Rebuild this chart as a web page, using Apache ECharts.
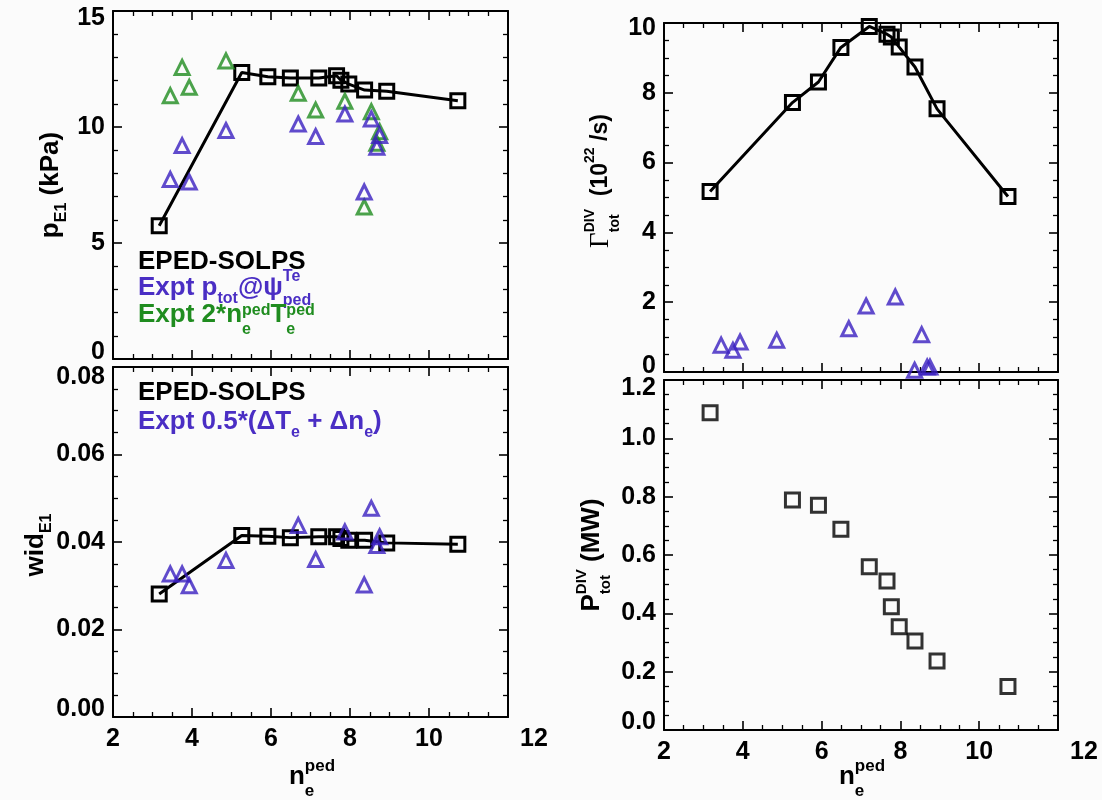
<!DOCTYPE html>
<html><head><meta charset="utf-8">
<script src="https://cdn.jsdelivr.net/npm/echarts@6/dist/echarts.min.js"></script>
<style>html,body{margin:0;padding:0;background:#fbfbfb}#c{width:1102px;height:800px}</style>
</head><body><div id="c"></div>
<script>
// ---- data ----
const neSOLPS    = [3.17, 5.26, 5.92, 6.49, 7.21, 7.66, 7.77, 7.97, 8.37, 8.93, 10.73];
const pE1SOLPS   = [5.74, 12.35, 12.17, 12.11, 12.11, 12.21, 12.02, 11.85, 11.59, 11.54, 11.13];
const widSOLPS   = [0.0281, 0.0415, 0.0413, 0.0410, 0.0412, 0.0412, 0.0408, 0.0404, 0.0404, 0.0398, 0.0395];
const gamSOLPS   = [5.17, 7.72, 8.31, 9.30, 9.90, 9.68, 9.60, 9.31, 8.74, 7.54, 5.03];
const pdivSOLPS  = [1.088, 0.789, 0.771, 0.688, 0.560, 0.511, 0.423, 0.354, 0.305, 0.237, 0.149];

const neExpt     = [3.45, 3.75, 3.93, 4.86, 6.69, 7.13, 7.87, 8.36, 8.54, 8.68, 8.75];
const pTotExpt   = [7.74, 9.20, 7.63, 9.85, 10.13, 9.59, 10.56, 7.20, 10.35, 9.13, 9.63];
const p2nTExpt   = [11.35, 12.57, 11.71, 12.85, 11.45, 10.73, 11.11, 6.55, 10.66, 9.30, 9.80];
const widExpt    = [0.0327, 0.0327, 0.0300, 0.0358, 0.0438, 0.0360, 0.0423, 0.0302, 0.0477, 0.0392, 0.0412];
const gamExpt    = [0.77, 0.62, 0.86, 0.91, 1.24, 1.89, 2.15, 0.05, 1.07, 0.14, 0.14];

const xTicks = {min: 2, max: 12, interval: 2};

// ---- styles ----
const FONT = "'Liberation Sans', Arial, Helvetica, sans-serif";
const BLACK = '#000', BLUE = '#3a1fc0', BLUETXT = '#4a2ec4', GREEN = '#1f8c1f';
const pairs = (xs, ys) => xs.map((x, i) => [x, ys[i]]);

const mctx = document.createElement('canvas').getContext('2d');
function tw(t, size, fam, wt) { mctx.font = `${wt} ${size}px ${fam}`; return mctx.measureText(t).width; }

function richText(segs, o) {
  const S = o.size || 26, s = o.small || 16;
  const children = []; let cx = 0;
  const txt = (t, x, y, size, fam, wt, col) => children.push({type: 'text', x, y,
    style: {text: t, font: `${wt} ${size}px ${fam}`, fill: col, verticalAlign: 'middle', align: 'left'}});
  for (const g of segs) {
    const col = g.color || o.color || BLACK;
    if (g.t !== undefined) {
      const fam = g.family || FONT, wt = g.weight || 'bold', sz = g.size || S;
      txt(g.t, cx, 0, sz, fam, wt, col);
      cx += tw(g.t, sz, fam, wt);
    } else {
      let w = 0;
      const stacked = g.sup && g.sub;
      if (g.sup) { txt(g.sup, cx, (g.supY !== undefined ? g.supY : -0.40) * S, s, FONT, 'bold', col); w = Math.max(w, tw(g.sup, s, FONT, 'bold')); }
      if (g.sub) { txt(g.sub, cx, (g.subY !== undefined ? g.subY : (stacked ? 0.55 : 0.40)) * S, s, FONT, 'bold', col); w = Math.max(w, tw(g.sub, s, FONT, 'bold')); }
      cx += w + (g.gap || 0);
    }
  }
  const off = o.align === 'center' ? -cx / 2 : 0;
  children.forEach(c => c.x += off);
  return {type: 'group', x: o.x, y: o.y, rotation: o.rotation || 0, silent: true, children};
}

// ---- layout ----
const grids = [
  {left: 113, top: 11, width: 395, height: 348},
  {left: 113, top: 367, width: 395, height: 350},
  {left: 664, top: 23, width: 394, height: 349},
  {left: 664, top: 380, width: 394, height: 350}
];
const yCfg = [
  {min: 0, max: 15, interval: 5, split: 5, dec: 0, shiftMax: 7, shiftMin: 7},
  {min: 0, max: 0.08, interval: 0.02, split: 4, dec: 2, shiftMax: 10, shiftMin: 8},
  {min: 0, max: 10, interval: 2, split: 4, dec: 0, shiftMax: 5, shiftMin: 6},
  {min: 0, max: 1.2, interval: 0.2, split: 4, dec: 1, shiftMax: 8, shiftMin: 8}
];
const labelStyle = {color: BLACK, fontSize: 25, fontWeight: 'bold', fontFamily: FONT};
function axisCommon(extra) {
  return Object.assign({
    type: 'value',
    axisLine: {show: true, onZero: false, lineStyle: {color: BLACK, width: 2}},
    axisTick: {show: true, inside: true, length: 9, lineStyle: {color: BLACK, width: 1.6}},
    splitLine: {show: false}, minorSplitLine: {show: false}
  }, extra);
}
const minor = n => ({show: true, splitNumber: n, length: 5, lineStyle: {color: BLACK, width: 1.3}});
const xAxis = [], yAxis = [];
grids.forEach((g, i) => {
  const showX = (i === 1 || i === 3);
  xAxis.push(axisCommon({gridIndex: i, position: 'bottom', min: xTicks.min, max: xTicks.max, interval: xTicks.interval,
    minorTick: minor(4),
    axisLabel: Object.assign({show: showX, margin: 10,
      formatter: v => Math.abs(v - xTicks.max) < 1e-9 ? `{r|${v}}` : String(v),
      rich: {r: Object.assign({padding: [0, 0, 0, 52]}, labelStyle)}}, labelStyle)}));
  xAxis.push(axisCommon({gridIndex: i, position: 'top', min: xTicks.min, max: xTicks.max, interval: xTicks.interval,
    minorTick: minor(4), axisLabel: {show: false}}));
  const c = yCfg[i];
  yAxis.push(axisCommon({gridIndex: i, position: 'left', min: c.min, max: c.max, interval: c.interval,
    minorTick: minor(c.split),
    axisLabel: Object.assign({show: true, margin: 8,
      formatter: v => {
        const s = v.toFixed(c.dec);
        if (Math.abs(v - c.max) < 1e-9) return `{hi|${s}}`;
        if (Math.abs(v - c.min) < 1e-9) return `{lo|${s}}`;
        return `{n|${s}}`;
      },
      rich: {
        hi: Object.assign({padding: [2 * c.shiftMax, 0, 0, 0]}, labelStyle),
        lo: Object.assign({padding: [0, 0, 2 * c.shiftMin, 0]}, labelStyle),
        n: Object.assign({}, labelStyle)
      }}, labelStyle)}));
  yAxis.push(axisCommon({gridIndex: i, position: 'right', min: c.min, max: c.max, interval: c.interval,
    minorTick: minor(c.split), axisLabel: {show: false}}));
});

const sq = {symbol: 'rect', symbolSize: 14, itemStyle: {color: 'rgba(0,0,0,0)', borderColor: BLACK, borderWidth: 3}};
function solpsLine(g, ys) {
  return Object.assign({type: 'line', xAxisIndex: 2 * g, yAxisIndex: 2 * g, data: pairs(neSOLPS, ys),
    showSymbol: true, lineStyle: {color: BLACK, width: 3}, z: 2}, sq);
}
function tri(g, ys, col) {
  return {type: 'scatter', xAxisIndex: 2 * g, yAxisIndex: 2 * g, data: pairs(neExpt, ys), symbol: 'triangle',
    symbolSize: 14, itemStyle: {color: 'rgba(0,0,0,0)', borderColor: col, borderWidth: 3}, z: 3};
}

const series = [
  solpsLine(0, pE1SOLPS),
  tri(0, p2nTExpt, GREEN),
  tri(0, pTotExpt, BLUE),
  solpsLine(1, widSOLPS),
  tri(1, widExpt, BLUE),
  solpsLine(2, gamSOLPS),
  tri(2, gamExpt, BLUE),
  Object.assign({type: 'scatter', xAxisIndex: 6, yAxisIndex: 6, data: pairs(neSOLPS, pdivSOLPS), z: 2}, sq)
];

const graphic = [
  // legends
  richText([{t: 'EPED-SOLPS'}], {x: 138, y: 262}),
  richText([{t: 'Expt p'}, {sub: 'tot'}, {t: '@ψ'}, {sup: 'Te', sub: 'ped', supY: -0.42, subY: 0.48}], {x: 138, y: 288, color: BLUETXT}),
  richText([{t: 'Expt 2*n'}, {sup: 'ped', sub: 'e', supY: -0.18, subY: 0.56}, {t: 'T'}, {sup: 'ped', sub: 'e', supY: -0.18, subY: 0.56}], {x: 138, y: 315, color: GREEN}),
  richText([{t: 'EPED-SOLPS'}], {x: 138, y: 393}),
  richText([{t: 'Expt 0.5*(ΔT'}, {sub: 'e'}, {t: ' + Δn'}, {sub: 'e'}, {t: ')'}], {x: 138, y: 422, color: BLUETXT}),
  // axis titles
  richText([{t: 'p'}, {sub: 'E1'}, {t: ' (kPa)'}], {x: 51, y: 185, rotation: Math.PI / 2, align: 'center'}),
  richText([{t: 'wid'}, {sub: 'E1'}], {x: 36, y: 545, rotation: Math.PI / 2, align: 'center'}),
  richText([{t: 'Γ', family: "'Liberation Serif', 'DejaVu Serif', serif", weight: 'normal', size: 27}, {sup: 'DIV', sub: 'tot'},
            {t: '  (10', size: 23}, {sup: '22'}, {t: ' /s)', size: 23}], {x: 601, y: 181, rotation: Math.PI / 2, align: 'center', small: 14}),
  richText([{t: 'P'}, {sup: 'DIV', sub: 'tot'}, {t: ' (MW)'}], {x: 592, y: 555, rotation: Math.PI / 2, align: 'center', small: 15}),
  richText([{t: 'n'}, {sup: 'ped', sub: 'e'}], {x: 312, y: 777, align: 'center', small: 17}),
  richText([{t: 'n'}, {sup: 'ped', sub: 'e'}], {x: 862, y: 777, align: 'center', small: 17})
];

const chart = echarts.init(document.getElementById('c'), null, {renderer: 'canvas'});
chart.setOption({
  animation: false,
  backgroundColor: '#fbfbfb',
  grid: grids,
  xAxis, yAxis, series, graphic
});
</script></body></html>
